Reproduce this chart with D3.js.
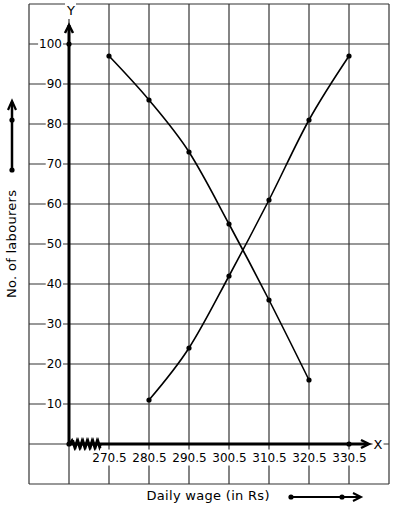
<!DOCTYPE html>
<html>
<head>
<meta charset="utf-8">
<script src="https://cdn.jsdelivr.net/npm/d3@7"></script>
<style>
  body { margin: 0; background: #fff; }
  svg { display: block; font-family: "DejaVu Sans", sans-serif; }
</style>
</head>
<body>
<svg width="394" height="510"></svg>
<script>
// data
var xTicks = [270.5, 280.5, 290.5, 300.5, 310.5, 320.5, 330.5];
var yTicks = [10, 20, 30, 40, 50, 60, 70, 80, 90, 100];
var moreWages = [270.5, 280.5, 290.5, 300.5, 310.5, 320.5];
var moreThan = [97, 86, 73, 55, 36, 16];
var lessWages = [280.5, 290.5, 300.5, 310.5, 320.5, 330.5];
var lessThan = [11, 24, 42, 61, 81, 97];
var gridX = [250.5, 260.5, 270.5, 280.5, 290.5, 300.5, 310.5, 320.5, 330.5, 340.5];
var gridY = [-10, 0, 10, 20, 30, 40, 50, 60, 70, 80, 90, 100, 110];

var svg = d3.select("svg");

var x = d3.scaleLinear().domain([260.5, 340.5]).range([69, 389]);
var y = d3.scaleLinear().domain([-10, 110]).range([484, 4]);

var x0 = x(260.5), y0 = y(0);

// grid
var grid = svg.append("g").attr("stroke", "#333").attr("stroke-width", 1.2);
grid.selectAll(".gx").data(gridX).enter().append("line")
    .attr("x1", d => x(d)).attr("x2", d => x(d))
    .attr("y1", y(110)).attr("y2", y(-10));
grid.selectAll(".gy").data(gridY).enter().append("line")
    .attr("x1", x(250.5)).attr("x2", x(340.5))
    .attr("y1", d => y(d)).attr("y2", d => y(d));

function whiteBack(sel, pad) {
  sel.each(function() {
    var b = this.getBBox();
    var p = this.parentNode;
    d3.select(p).insert("rect", function() { return p.firstChild; })
      .attr("x", b.x - pad).attr("y", b.y - 1)
      .attr("width", b.width + pad * 2).attr("height", b.height + 2)
      .attr("fill", "#fff");
  });
}

// y tick labels
var yAxis = svg.append("g")
    .attr("transform", "translate(" + x0 + ",0)")
    .call(d3.axisLeft(y).tickValues(yTicks).tickSize(0).tickPadding(7));
yAxis.select(".domain").remove();
yAxis.selectAll("text").attr("font-size", 12).attr("font-family", "DejaVu Sans").attr("fill", "#000");
whiteBack(yAxis.selectAll("text"), 1);

// x tick labels
var xAxis = svg.append("g")
    .attr("transform", "translate(0," + y0 + ")")
    .call(d3.axisBottom(x).tickValues(xTicks).tickFormat(d3.format(".1f")).tickSize(0).tickPadding(9));
xAxis.select(".domain").remove();
xAxis.selectAll("text").attr("font-size", 12).attr("font-family", "DejaVu Sans").attr("fill", "#000");
whiteBack(xAxis.selectAll("text"), 1);

// main axes
var ax = svg.append("g").attr("stroke", "#000").attr("fill", "none");
ax.append("line").attr("x1", x0).attr("x2", x0).attr("y1", y0).attr("y2", 25).attr("stroke-width", 3);
ax.append("path").attr("d", "M" + (x0 - 4) + ",33L" + x0 + ",25L" + (x0 + 4) + ",33").attr("stroke-width", 2.5);
ax.append("line").attr("x1", x0).attr("x2", 368).attr("y1", y0).attr("y2", y0).attr("stroke-width", 3);
ax.append("path").attr("d", "M361," + (y0 - 4) + "L369," + y0 + "L361," + (y0 + 4)).attr("stroke-width", 2.5);

// axis break zigzag
var zz = [[x0, y0]];
for (var i = 0; i < 12; i++) {
  zz.push([x0 + 3 + i * 2.5, y0 + (i % 2 ? 4 : -4)]);
}
zz.push([101, y0]);
ax.append("path").attr("d", d3.line()(zz)).attr("stroke-width", 2);
ax.append("path").attr("d", d3.line()(zz.slice(1, -1).map(p => [p[0] + 1.2, p[1]]))).attr("stroke-width", 1.6);

// axis letters
var lab = svg.append("g").attr("font-size", 13).attr("fill", "#000");
var tY = lab.append("text").attr("x", 71).attr("y", 15).attr("text-anchor", "middle").text("Y");
var tX = lab.append("text").attr("x", 378).attr("y", y0 + 4.5).attr("text-anchor", "middle").text("X");
whiteBack(tY, 1);
whiteBack(tX, 1);

// curves
var line = d3.line().curve(d3.curveMonotoneX).x(d => x(d[0])).y(d => y(d[1]));
var morePts = moreWages.map((w, i) => [w, moreThan[i]]);
var lessPts = lessWages.map((w, i) => [w, lessThan[i]]);

svg.append("path").datum(morePts).attr("d", line)
    .attr("fill", "none").attr("stroke", "#000").attr("stroke-width", 1.6);
svg.append("path").datum(lessPts).attr("d", line)
    .attr("fill", "none").attr("stroke", "#000").attr("stroke-width", 1.6);

svg.selectAll(".pt").data(morePts.concat(lessPts, [[260.5, 0], [260.5, 100], [330.5, 0]]))
  .enter().append("circle")
    .attr("cx", d => x(d[0])).attr("cy", d => y(d[1])).attr("r", 2.6).attr("fill", "#000");

// y title with its arrow
svg.append("text")
    .attr("transform", "translate(16,244) rotate(-90)")
    .attr("text-anchor", "middle").attr("font-size", 13).attr("fill", "#000")
    .attr("textLength", 108)
    .text("No. of labourers");
var yl = svg.append("g").attr("stroke", "#000").attr("fill", "none");
yl.append("line").attr("x1", 12).attr("x2", 12).attr("y1", 170).attr("y2", 102).attr("stroke-width", 2.5);
yl.append("path").attr("d", "M8,110L12,101L16,110").attr("stroke-width", 2.2);
svg.selectAll(".ydot").data([120, 170]).enter().append("circle")
    .attr("cx", 12).attr("cy", d => d).attr("r", 2.6).attr("fill", "#000");

// x title with its arrow
svg.append("text")
    .attr("x", 208).attr("y", 500)
    .attr("text-anchor", "middle").attr("font-size", 13).attr("fill", "#000")
    .attr("textLength", 123)
    .text("Daily wage (in Rs)");
var xl = svg.append("g").attr("stroke", "#000").attr("fill", "none");
xl.append("line").attr("x1", 291).attr("x2", 360).attr("y1", 497).attr("y2", 497).attr("stroke-width", 2.2);
xl.append("path").attr("d", "M353,493L361,497L353,501").attr("stroke-width", 2);
svg.selectAll(".xdot").data([291, 342]).enter().append("circle")
    .attr("cx", d => d).attr("cy", 497).attr("r", 2.6).attr("fill", "#000");
</script>
</body>
</html>
